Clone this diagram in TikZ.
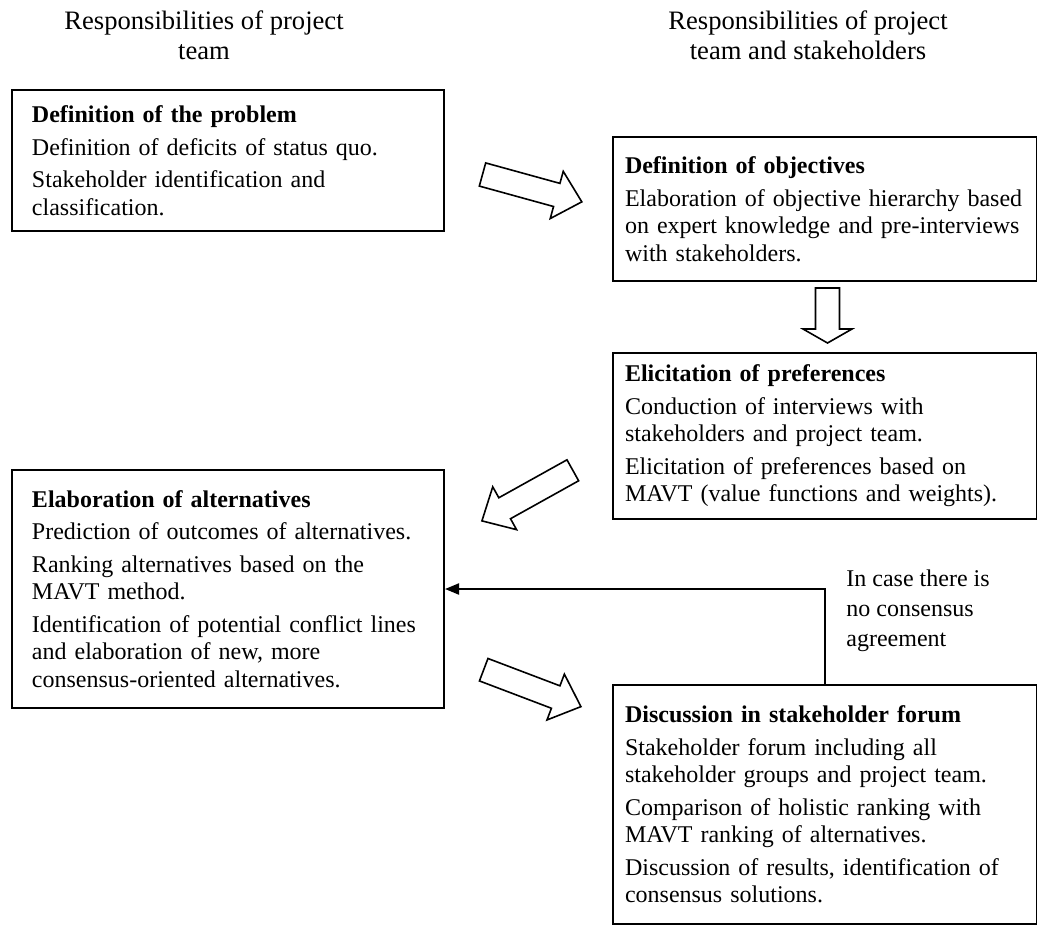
\documentclass[tikz,border=0pt]{standalone}
\usepackage{fontspec}
\setmainfont{Liberation Serif}
\usetikzlibrary{arrows.meta,calc,positioning}
\tikzset{
  stage/.style={draw,line width=1pt,anchor=north west,align=left,inner xsep=10pt,inner ysep=0pt,
    font=\fontsize{12}{13.75}\selectfont},
  leftstage/.style={stage,text width=196pt,minimum width=216pt},
  rightstage/.style={stage,inner xsep=6pt,text width=200pt,minimum width=212pt},
  head/.style={align=center,inner sep=0pt,font=\fontsize{13.3}{15}\selectfont},
  note/.style={align=left,anchor=north west,inner sep=0pt,font=\fontsize{12}{15}\selectfont},
  blockline/.style={draw,line width=0.8pt,line join=miter},
  pics/fatarrow/.style args={#1/#2}{code={
    \draw[blockline] (0,-12) -- ({#1-#2},-12) -- ({#1-#2},-24.5) -- (#1,0)
      -- ({#1-#2},24.5) -- ({#1-#2},12) -- (0,12) -- cycle;}},
}
\begin{document}
\begin{tikzpicture}[x=0.5pt,y=-0.5pt,>=Latex]
\useasboundingbox (0,0) rectangle (1037,926);
% column heads
\node[head] (hdl) at (204,35) {Responsibilities of project\\team};
\node[head] (hdr) at (808,35) {Responsibilities of project\\team and stakeholders};
% stages
\node[leftstage,minimum height=70.5pt] (prob) at (11,89) {\textbf{Definition of the problem}\\[2.5pt]
Definition of deficits of status quo.\\[2.5pt]
Stakeholder identification and\\classification.};
\node[rightstage,minimum height=72pt] (obj) at (612,136) {\textbf{Definition of objectives}\\[2.5pt]
Elaboration of objective hierarchy based\\on expert knowledge and pre-interviews\\with stakeholders.};
\node[rightstage,minimum height=83pt] (pref) at (612,352) {\textbf{Elicitation of preferences}\\[2.5pt]
Conduction of interviews with\\stakeholders and project team.\\[2.5pt]
Elicitation of preferences based on\\MAVT (value functions and weights).};
\node[leftstage,minimum height=119pt] (alts) at (11,469) {\textbf{Elaboration of alternatives}\\[2.5pt]
Prediction of outcomes of alternatives.\\[2.5pt]
Ranking alternatives based on the\\MAVT method.\\[2.5pt]
Identification of potential conflict lines\\and elaboration of new, more\\consensus-oriented alternatives.};
\node[rightstage,minimum height=119.5pt] (disc) at (612,684) {\textbf{Discussion in stakeholder forum}\\[2.5pt]
Stakeholder forum including all\\stakeholder groups and project team.\\[2.5pt]
Comparison of holistic ranking with\\MAVT ranking of alternatives.\\[2.5pt]
Discussion of results, identification of\\consensus solutions.};
% hollow arrows between stages
\pic[rotate=-15.4] at (482.5,174.5) {fatarrow=103/26};
\pic[rotate=-90] at (827.5,288) {fatarrow=55/14};
\pic[rotate=209.1] at (572.8,470.3) {fatarrow=104/26};
\pic[rotate=-20.8] at (483.7,669.7) {fatarrow=104/27};
% feedback loop
\draw[->,line width=1pt,>={Triangle[length=7pt,width=5.5pt]}] (disc.north) |- (alts.east);
\node[note] (cond) at (846,569) {In case there is\\no consensus\\agreement};
\end{tikzpicture}
\end{document}
